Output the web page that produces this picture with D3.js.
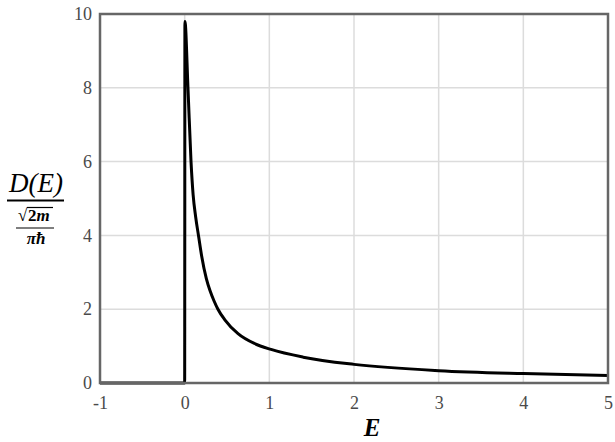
<!DOCTYPE html>
<html><head><meta charset="utf-8">
<script src="https://cdn.jsdelivr.net/npm/d3@7"></script>
<style>body{margin:0;background:#fff}svg{display:block}</style>
</head><body><svg id="c" width="615" height="442"></svg>
<script>
const energy = [-1, 0, 0.003, 0.039, 0.075, 0.1, 0.13, 0.165, 0.2, 0.256, 0.3, 0.346, 0.393, 0.472, 0.63, 0.826, 1.02, 1.4, 2.0, 3.0, 4.0, 5.0];
const density = [0, 0, 9.8, 8.0, 6.0, 5.1, 4.5, 3.97, 3.45, 2.83, 2.5, 2.23, 2.0, 1.72, 1.34, 1.07, 0.91, 0.70, 0.505, 0.335, 0.255, 0.205];
const xTicks = [-1, 0, 1, 2, 3, 4, 5];
const yTicks = [0, 2, 4, 6, 8, 10];

const svg = d3.select("#c");
const m = {l: 100, r: 7, t: 14, b: 59};
const W = 615, H = 442;
const x = d3.scaleLinear().domain([-1, 5]).range([m.l, W - m.r]);
const y = d3.scaleLinear().domain([0, 10]).range([H - m.b, m.t]);
const FONT = '"Liberation Serif"';

// grid
svg.append("g").selectAll("line").data(xTicks.slice(1, -1)).join("line")
  .attr("x1", d => x(d)).attr("x2", d => x(d)).attr("y1", y(0)).attr("y2", y(10))
  .attr("stroke", "#dcdcdc").attr("stroke-width", 1.5);
svg.append("g").selectAll("line").data(yTicks.slice(1, -1)).join("line")
  .attr("y1", d => y(d)).attr("y2", d => y(d)).attr("x1", x(-1)).attr("x2", x(5))
  .attr("stroke", "#dcdcdc").attr("stroke-width", 1.5);

// axes labels via d3 axes
const xa = svg.append("g").attr("transform", `translate(0,${y(0)})`)
  .call(d3.axisBottom(x).tickValues(xTicks).tickSize(0).tickPadding(13).tickFormat(d => String(d)));
const ya = svg.append("g").attr("transform", `translate(${x(-1)},0)`)
  .call(d3.axisLeft(y).tickValues(yTicks).tickSize(0).tickPadding(8).tickFormat(d => String(d)));
[xa, ya].forEach(g => {
  g.attr("font-family", null).attr("font-size", null);
  g.select(".domain").remove();
  g.selectAll("text").style("font-family", FONT).style("font-size", "18px").attr("fill", "#4a4a4a");
});

// curve
const line = d3.line().x((d, i) => x(energy[i])).y((d, i) => y(density[i])).curve(d3.curveMonotoneX);
svg.append("path").datum(density).attr("d", line)
  .attr("fill", "none").attr("stroke", "#000").attr("stroke-width", 3).attr("stroke-linejoin", "round");

// frame
svg.append("rect").attr("x", x(-1)).attr("y", y(10)).attr("width", x(5) - x(-1)).attr("height", y(0) - y(10))
  .attr("fill", "none").attr("stroke", "#666").attr("stroke-width", 2.5);

// x label
svg.append("text").attr("x", 372).attr("y", 436).attr("text-anchor", "middle")
  .style("font-family", FONT).style("font-style", "italic").style("font-weight", "bold").style("font-size", "25px")
  .text("E");

// y label fraction
const yl = svg.append("g");
yl.append("text").attr("x", 36).attr("y", 192).attr("text-anchor", "middle")
  .style("font-family", FONT).style("font-style", "italic").style("font-size", "27px").text("D(E)");
yl.append("line").attr("x1", 7).attr("x2", 64).attr("y1", 200.5).attr("y2", 200.5).attr("stroke", "#000").attr("stroke-width", 2);
yl.append("text").attr("x", 18).attr("y", 221).style("font-family", FONT).style("font-size", "17px").style("font-weight", "bold").text("√");
yl.append("text").attr("x", 28).attr("y", 221).style("font-family", FONT).style("font-size", "17px").style("font-weight", "bold")
  .text("2").append("tspan").style("font-style", "italic").text("m");
yl.append("line").attr("x1", 27).attr("x2", 53).attr("y1", 207.5).attr("y2", 207.5).attr("stroke", "#000").attr("stroke-width", 1.2);
yl.append("line").attr("x1", 16).attr("x2", 54).attr("y1", 228).attr("y2", 228).attr("stroke", "#000").attr("stroke-width", 1.2);
yl.append("text").attr("x", 36).attr("y", 244).attr("text-anchor", "middle").style("font-family", FONT).style("font-size", "17px")
  .style("font-weight", "bold").style("font-style", "italic").text("πħ");
</script></body></html>
